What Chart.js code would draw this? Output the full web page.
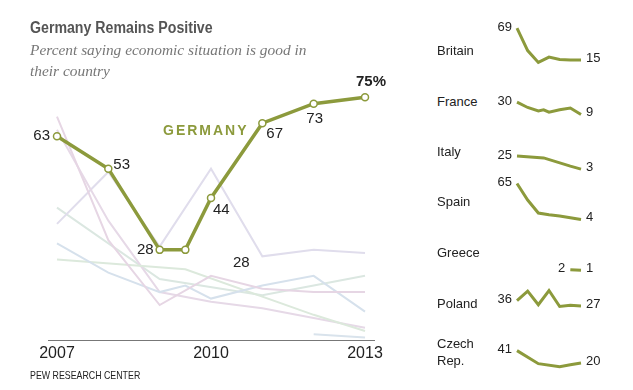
<!DOCTYPE html>
<html>
<head>
<meta charset="utf-8">
<script src="https://cdn.jsdelivr.net/npm/chart.js@4/dist/chart.umd.min.js"></script>
<style>
  html, body { margin: 0; padding: 0; background: #fff; }
  #wrap { position: relative; width: 633px; height: 390px; overflow: hidden; font-family: 'Liberation Sans', Arial, sans-serif; }
  canvas { position: absolute; }
  .t { position: absolute; white-space: nowrap; line-height: 1; }
  .title { font-size: 16px; font-weight: bold; color: #555; transform: scaleX(0.885); transform-origin: left top; }
  .sub { font-family: 'Liberation Serif', serif; font-style: italic; font-size: 15.4px; color: #777; }
  .name { font-size: 13px; color: #222; }
  .germ { font-size: 14px; font-weight: bold; color: #8c9a3c; letter-spacing: 2px; }
  .lbl { font-size: 15px; color: #222; }
  .src { font-size: 10.5px; color: #222; transform: scaleX(0.84); transform-origin: left top; }
</style>
</head>
<body>
<div id="wrap">
  <canvas id="main" width="420" height="390" style="left:0;top:0"></canvas>

  <div class="t title" style="left:30px;top:19.8px">Germany Remains Positive</div>
  <div class="t sub" style="left:30px;top:42.2px">Percent saying economic situation is good in</div>
  <div class="t sub" style="left:30px;top:62.7px">their country</div>
  <div class="t germ" style="left:163px;top:123px">GERMANY</div>
  <div class="t lbl" style="left:233px;top:254px">28</div>
  <div class="t src" style="left:30px;top:370.4px">PEW RESEARCH CENTER</div>
</div>

<script>
// survey waves (2009.5 = fall 2009 wave)
const years = [2007, 2008, 2009, 2009.5, 2010, 2011, 2012, 2013];
const tickYears = [2007, 2010, 2013];

const germany = [63, 53, 28, 28, 44, 67, 73, 75];
const britain = [69, 31, 11, null, 20, 16, 15, 15];
const france = [30, 21, 15, 17, 13, 17, 20, 9];
const italy = [25, null, null, 22, null, null, 8, 3];
const spain = [65, 37, 15, null, 12, 10, 7, 4];
const greece = [null, null, null, null, null, null, 2, 1];
const poland = [36, 52, 29, null, 53, 26, 28, 27];
const czech = [41, null, 19, null, null, 14, 17, 20];

const countries = ['Britain', 'France', 'Italy', 'Spain', 'Greece', 'Poland', 'Czech Rep.'];
const countryValues = [britain, france, italy, spain, greece, poland, czech];

const olive = '#8c9a3c';
const paleColors = ['#e6d6e4', '#d6e1ec', '#dce9dc', '#e6d9e7', '#d9e3ec', '#e0ddec', '#dbe7e1'];

const toPoints = (vals) => years.map((x, i) => ({ x: x, y: vals[i] }));

// label placement for germany values (offsets from the point)
const germanyLabelPos = [
  { dx: -7, dy: 0, align: 'right' },
  { dx: 5, dy: -4, align: 'left' },
  { dx: -6, dy: 0, align: 'right' },
  null,
  { dx: 2, dy: 12, align: 'left' },
  { dx: 4, dy: 11, align: 'left' },
  { dx: 1, dy: 15, align: 'center' },
  { dx: 6, dy: -15, align: 'center', bold: true, suffix: '%' }
];

const germanyLabels = {
  id: 'germanyLabels',
  afterDatasetsDraw(chart) {
    const ctx = chart.ctx;
    const meta = chart.getDatasetMeta(0);
    ctx.save();
    ctx.fillStyle = '#222';
    ctx.textBaseline = 'middle';
    meta.data.forEach((pt, i) => {
      const p = germanyLabelPos[i];
      if (!p) return;
      ctx.font = (p.bold ? 'bold ' : '') + '15px "Liberation Sans", Arial, sans-serif';
      ctx.textAlign = p.align;
      ctx.fillText(germany[i] + (p.suffix || ''), pt.x + p.dx, pt.y + p.dy);
    });
    ctx.restore();
  }
};

const bgSets = countryValues.map((vals, i) => ({
  data: toPoints(vals),
  borderColor: paleColors[i],
  borderWidth: 2,
  pointRadius: 0,
  spanGaps: true,
  clip: false
}));

new Chart(document.getElementById('main'), {
  type: 'line',
  data: {
    datasets: [{
      data: toPoints(germany),
      borderColor: olive,
      borderWidth: 3.5,
      pointRadius: 3.5,
      pointBorderWidth: 1.5,
      pointBackgroundColor: '#fff',
      pointBorderColor: olive,
      clip: false
    }].concat(bgSets)
  },
  options: {
    responsive: false,
    animation: false,
    devicePixelRatio: 1,
    layout: { padding: { left: 48, right: 46, top: 81, bottom: 24 } },
    plugins: { legend: { display: false }, tooltip: { enabled: false } },
    scales: {
      x: {
        type: 'linear',
        min: 2006.825,
        max: 2013.175,
        grid: { display: false, drawTicks: false, tickLength: 0 },
        border: { display: true, color: '#777', width: 1 },
        afterBuildTicks: (s) => { s.ticks = tickYears.map(v => ({ value: v })); },
        ticks: {
          autoSkip: false,
          maxRotation: 0,
          padding: 3,
          color: '#222',
          font: { size: 16, family: '"Liberation Sans", Arial, sans-serif' },
          callback: (v) => String(v)
        }
      },
      y: { display: false, min: 0, max: 80 }
    }
  },
  plugins: [germanyLabels]
});

// small multiples on the right
const panelZero = [69, 120.3, 170.5, 221.7, 271, 322, 375];
const nameBaselines = [[55], [106], [156], [206], [256.7], [307.7], [348.3, 365]];
const sparkMin = -12, sparkMax = 108, sparkH = 71;

const sparkLabels = {
  id: 'sparkLabels',
  afterDatasetsDraw(chart) {
    const ctx = chart.ctx;
    const vals = chart.data.datasets[0].data;
    const meta = chart.getDatasetMeta(0);
    const idx = vals.map((p, i) => p.y == null ? -1 : i).filter(i => i >= 0);
    const first = idx[0], last = idx[idx.length - 1];
    ctx.save();
    ctx.fillStyle = '#222';
    ctx.font = '13px "Liberation Sans", Arial, sans-serif';
    ctx.textBaseline = 'middle';
    ctx.textAlign = 'right';
    ctx.fillText(vals[first].y, meta.data[first].x - 5, meta.data[first].y - 1);
    ctx.textAlign = 'left';
    ctx.fillText(vals[last].y, meta.data[last].x + 5, meta.data[last].y - 2);
    ctx.restore();
  }
};

const wrap = document.getElementById('wrap');
countries.forEach((name, i) => {
  nameBaselines[i].forEach((b, j) => {
    const d = document.createElement('div');
    d.className = 't name';
    d.style.left = '437px';
    d.style.top = (b - 11) + 'px';
    d.textContent = nameBaselines[i].length > 1 ? name.split(' ')[j] : name;
    wrap.appendChild(d);
  });

  const c = document.createElement('canvas');
  c.width = 150;
  c.height = sparkH;
  c.style.left = '470px';
  c.style.top = (panelZero[i] - sparkMax * sparkH / (sparkMax - sparkMin)) + 'px';
  wrap.appendChild(c);

  new Chart(c, {
    type: 'line',
    data: {
      datasets: [{
        data: toPoints(countryValues[i]),
        borderColor: olive,
        borderWidth: 3,
        pointRadius: 0,
        spanGaps: true,
        clip: false
      }]
    },
    options: {
      responsive: false,
      animation: false,
      devicePixelRatio: 1,
      layout: { padding: { left: 47, right: 39, top: 0, bottom: 0 } },
      plugins: { legend: { display: false }, tooltip: { enabled: false } },
      scales: {
        x: { type: 'linear', display: false, min: 2007, max: 2013 },
        y: { display: false, min: sparkMin, max: sparkMax }
      }
    },
    plugins: [sparkLabels]
  });
});
</script>
</body>
</html>
